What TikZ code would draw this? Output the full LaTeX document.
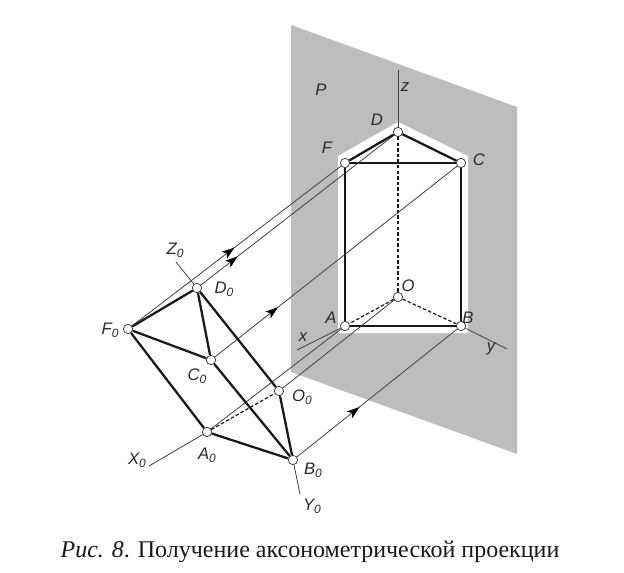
\documentclass[tikz,border=0pt]{standalone}
\usepackage{fontspec}
\setmainfont{Liberation Serif}
\newfontfamily\labelfont{Liberation Sans}
\usetikzlibrary{decorations.markings,arrows.meta}
\newcommand{\subz}{\raisebox{-0.35ex}{\fontsize{9}{9}\selectfont 0}}
\definecolor{planegray}{HTML}{BCBDBF}
\definecolor{inkgray}{HTML}{2B2B2B}
\tikzset{
  pt/.style={circle,draw=inkgray,fill=white,line width=0.5pt,inner sep=0pt,minimum size=7pt},
  lab/.style={font=\labelfont\itshape\fontsize{12.5}{14}\selectfont,text=inkgray,inner sep=0pt},
  thick edge/.style={line width=1.7pt,draw=black!90},
  thin edge/.style={line width=0.6pt,draw=inkgray!90},
  hidden edge/.style={line width=0.9pt,draw=black!90,dash pattern=on 2.6pt off 1.6pt},
  axis edge/.style={line width=0.6pt,draw=inkgray!90},
  flow/.style={thin edge,postaction={decorate},decoration={markings,mark=at position #1 with {\arrow[black]{Stealth[length=9.5pt,width=6.5pt,inset=2.5pt]}}}}
}
\begin{document}
\begin{tikzpicture}[x=0.75pt,y=-0.75pt]
\useasboundingbox (0,0) rectangle (624,573);
\fill[white] (0,0) rectangle (624,573);
% plane and white halo
\fill[planegray] (291,25) -- (517,107) -- (517,454) -- (291,372) -- cycle;
\fill[white] (398,122) -- (468,156) -- (468,333) -- (338,333) -- (338,156) -- cycle;
% points
\node[pt] (D) at (398,132) {};
\node[pt] (F) at (345,163) {};
\node[pt] (C) at (461,163) {};
\node[pt] (A) at (345,326) {};
\node[pt] (B) at (461,326) {};
\node[pt] (O) at (398,297) {};
\node[pt] (F0) at (128,329) {};
\node[pt] (D0) at (197,288) {};
\node[pt] (C0) at (211,360) {};
\node[pt] (A0) at (207,432) {};
\node[pt] (B0) at (293,460) {};
\node[pt] (O0) at (279,391) {};
% free axis ends
\coordinate (zend) at (398,70);
\coordinate (xend) at (297,350);
\coordinate (yend) at (507,349);
\coordinate (Z0end) at (176,262);
\coordinate (X0end) at (149,466);
\coordinate (Y0end) at (300,494);
% axes
\draw[axis edge] (D) -- (zend);
\draw[axis edge] (A) -- (xend);
\draw[axis edge] (B) -- (yend);
\draw[axis edge] (D0) -- (Z0end);
\draw[axis edge] (A0) -- (X0end);
\draw[axis edge] (B0) -- (Y0end);
% projectors
\draw[flow=0.49] (F0) -- (F);
\draw[flow=0.19] (D0) -- (D);
\draw[flow=0.26] (C0) -- (C);
\draw[thin edge] (A0) -- (A);
\draw[thin edge] (O0) -- (O);
\draw[flow=0.39] (B0) -- (B);
% hidden edges
\draw[hidden edge] (D) -- (O);
\draw[hidden edge] (O) -- (A);
\draw[hidden edge] (O) -- (B);
\draw[hidden edge] (A0) -- (O0);
% prism on plane
\draw[thick edge] (F) -- (D);
\draw[thick edge] (D) -- (C);
\draw[thick edge,line width=1.3pt] (F) -- (C);
\draw[thick edge] (F) -- (A);
\draw[thick edge] (C) -- (B);
\draw[thick edge] (A) -- (B);
% original prism
\draw[thick edge] (F0) -- (D0);
\draw[thick edge] (D0) -- (C0);
\draw[thick edge] (F0) -- (C0);
\draw[thick edge] (F0) -- (A0);
\draw[thick edge] (D0) -- (O0);
\draw[thick edge] (C0) -- (B0);
\draw[thick edge] (A0) -- (B0);
\draw[thick edge] (O0) -- (B0);
% labels
\node[lab] (lP) at (321,90) {P};
\node[lab] (lz) at (405,87) {z};
\node[lab] (lD) at (377,120) {D};
\node[lab] (lF) at (327,148) {F};
\node[lab] (lC) at (479,160) {C};
\node[lab] (lO) at (408,286) {O};
\node[lab] (lA) at (331,318) {A};
\node[lab] (lB) at (468,318) {B};
\node[lab] (lx) at (303,337) {x};
\node[lab] (ly) at (491,349) {y};
\node[lab] (lZ0) at (175,250) {Z\subz};
\node[lab] (lD0) at (224,289) {D\subz};
\node[lab] (lF0) at (110,330) {F\subz};
\node[lab] (lC0) at (197,376) {C\subz};
\node[lab] (lO0) at (302,397) {O\subz};
\node[lab] (lX0) at (137,460) {X\subz};
\node[lab] (lA0) at (207,455) {A\subz};
\node[lab] (lB0) at (313,470) {B\subz};
\node[lab] (lY0) at (312,506) {Y\subz};
% caption
\node[inner sep=0pt,font=\fontsize{18}{21}\selectfont,text=black!90] (cap) at (310,552) {\textit{Рис. 8}. Получение аксонометрической проекции};
\end{tikzpicture}
\end{document}
